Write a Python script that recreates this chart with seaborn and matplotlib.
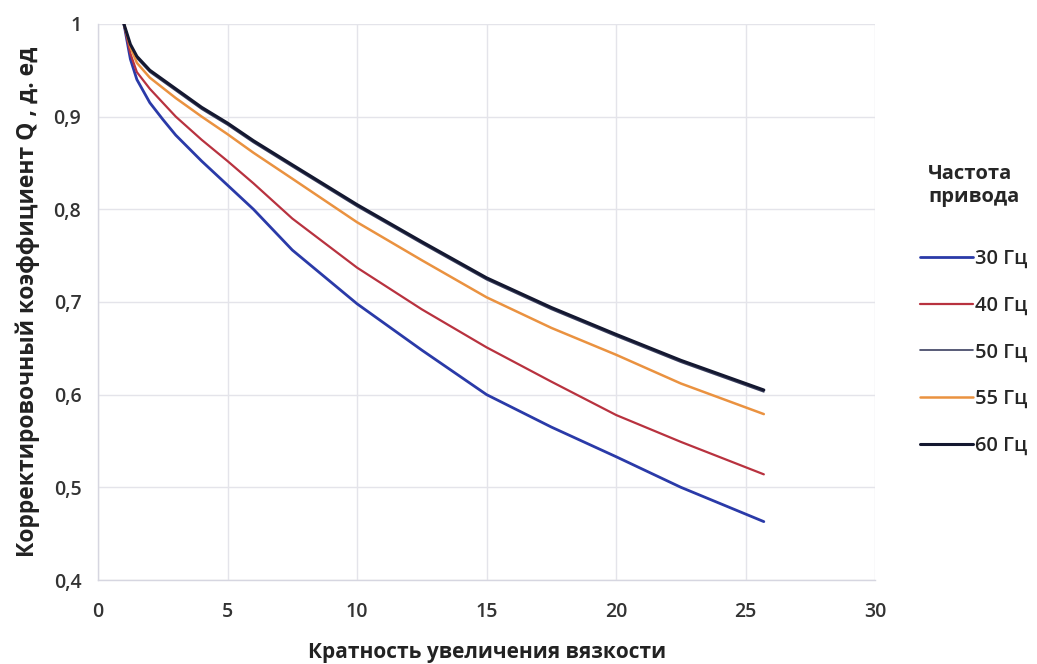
import numpy as np
import pandas as pd
import matplotlib
matplotlib.use("Agg")
import matplotlib.pyplot as plt
import seaborn as sns

# Data
x_vals = [1, 1.25, 1.5, 2, 2.5, 3, 4, 5, 6, 7.5, 10, 12.5, 15, 17.5, 20, 22.5, 25.7]
q_30 = [1, 0.962, 0.940, 0.915, 0.897, 0.880, 0.852, 0.826, 0.800, 0.756, 0.698, 0.648, 0.600, 0.565, 0.533, 0.500, 0.463]
q_40 = [1, 0.968, 0.948, 0.930, 0.915, 0.900, 0.875, 0.852, 0.828, 0.790, 0.737, 0.692, 0.651, 0.614, 0.578, 0.549, 0.514]
q_50 = [1, 0.977, 0.963, 0.948, 0.938, 0.928, 0.908, 0.891, 0.872, 0.846, 0.803, 0.763, 0.724, 0.692, 0.663, 0.635, 0.603]
q_55 = [1, 0.975, 0.958, 0.942, 0.931, 0.920, 0.900, 0.881, 0.861, 0.833, 0.786, 0.745, 0.705, 0.672, 0.643, 0.612, 0.579]
q_60 = [1, 0.978, 0.965, 0.950, 0.940, 0.930, 0.910, 0.893, 0.874, 0.848, 0.805, 0.765, 0.726, 0.694, 0.665, 0.637, 0.605]
series_labels = ["30 Гц", "40 Гц", "50 Гц", "55 Гц", "60 Гц"]
x_ticks = [0, 5, 10, 15, 20, 25, 30]
y_ticks = [0.4, 0.5, 0.6, 0.7, 0.8, 0.9, 1.0]
y_tick_labels = ["0,4", "0,5", "0,6", "0,7", "0,8", "0,9", "1"]

series = [q_30, q_40, q_50, q_55, q_60]
df = pd.concat(
    [pd.DataFrame({"x": x_vals, "q": s, "freq": lab}) for s, lab in zip(series, series_labels)],
    ignore_index=True,
)

colors = {"30 Гц": "#2a3aa8", "40 Гц": "#b8323f", "50 Гц": "#3b4060",
          "55 Гц": "#ea9240", "60 Гц": "#141830"}
widths = {"30 Гц": 2.0, "40 Гц": 1.6, "50 Гц": 1.2, "55 Гц": 1.8, "60 Гц": 2.2}

sns.set_theme(style="whitegrid")
plt.rcParams["font.family"] = ["Open Sans", "DejaVu Sans"]

fig = plt.figure(figsize=(10.37, 6.64), dpi=100)
ax = fig.add_axes([0.0945, 0.1265, 0.7495, 0.8375])

for lab in series_labels:
    sub = df[df["freq"] == lab]
    sns.lineplot(data=sub, x="x", y="q", ax=ax, color=colors[lab],
                 linewidth=widths[lab], label=lab, legend=False)

ax.set_xlim(0, 30)
ax.set_ylim(0.4, 1.0)
ax.set_xticks(x_ticks)
ax.set_yticks(y_ticks)
ax.set_yticklabels(y_tick_labels)
ax.grid(True, color="#e4e4ea", linewidth=1.0)
for side in ["top", "right"]:
    ax.spines[side].set_visible(False)
for side in ["left", "bottom"]:
    ax.spines[side].set_color("#d6d6e0")
    ax.spines[side].set_linewidth(1.0)
ax.tick_params(axis="x", labelsize=14, colors="#333333", length=0, pad=16)
ax.tick_params(axis="y", labelsize=14, colors="#333333", length=0, pad=12)
for t in ax.get_xticklabels() + ax.get_yticklabels():
    t.set_fontweight("semibold")

ax.set_xlabel("Кратность увеличения вязкости", fontsize=15, fontweight="bold",
              color="#222222", labelpad=14)
ax.set_ylabel("Корректировочный коэффициент Q , д. ед", fontsize=16.5, fontweight="bold",
              color="#222222", labelpad=10)

handles = [plt.Line2D([], [], color=colors[l], linewidth=widths[l]) for l in series_labels]
leg = fig.legend(handles, series_labels, loc="upper left", bbox_to_anchor=(0.87, 0.78),
                 frameon=False, title="Частота\nпривода", handlelength=2.6,
                 handletextpad=0.1, labelspacing=1.33,
                 prop={"size": 14.5, "weight": "semibold"},
                 title_fontproperties={"size": 14.5, "weight": "bold"})
leg._legend_box.align = "center"
leg._legend_box.sep = 30

fig.savefig("out.png", dpi=100, facecolor="white")
